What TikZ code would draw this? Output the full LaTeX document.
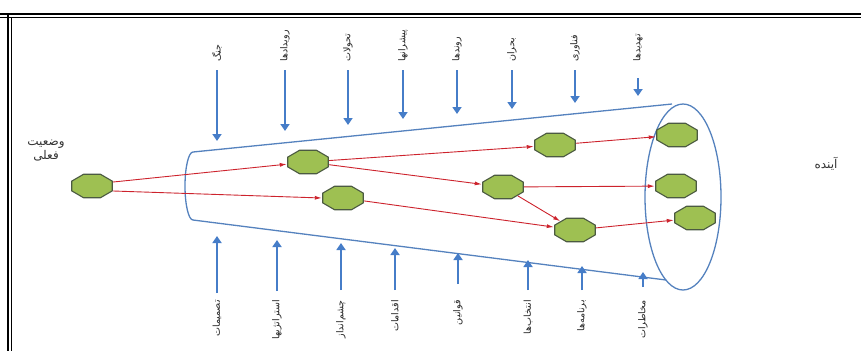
\documentclass[tikz,border=0pt]{standalone}
\usepackage{fontspec}
\usetikzlibrary{shapes.geometric,arrows.meta}
\TeXXeTstate=1
\newfontfamily\fa[Script=Arabic]{DejaVu Sans}
\definecolor{conec}{RGB}{85,130,190}
\definecolor{arrc}{RGB}{70,125,200}
\definecolor{redc}{RGB}{205,35,45}
\definecolor{nodef}{RGB}{158,192,82}
\definecolor{nodeb}{RGB}{75,90,65}
\tikzset{
  state/.style={regular polygon,regular polygon sides=8,minimum size=25.5pt,xscale=1.72,transform shape,
    fill=nodef,draw=nodeb,line width=1.1pt,inner sep=0pt},
  link/.style={draw=redc,line width=0.9pt,-{Latex[length=7pt,width=4pt]}},
  force/.style={draw=arrc,line width=2.6pt,-{Triangle[length=7pt,width=9pt]}},
  lbl/.style={font=\fa\fontsize{9.5}{10}\selectfont,rotate=90,inner sep=0pt,text=black!85},
  txt/.style={font=\fa\fontsize{12}{14}\selectfont,align=center,inner sep=0pt,text=black!80}
}
\begin{document}
\begin{tikzpicture}[x=1pt,y=-1pt]
\useasboundingbox (0,0) rectangle (861,351);
% frame
\draw[line width=1.6pt] (0,14) -- (861,14);
\draw[line width=0.6pt] (0,17) -- (861,17);
\draw[line width=1.6pt] (8,14) -- (8,351);
\draw[line width=0.6pt] (11,17) -- (11,351);
% cone
\fill[white] (193,152) -- (670,104) -- (670,278) -- (193,220) -- cycle;
\draw[conec,line width=1.3pt] (193,152) -- (672,104);
\draw[conec,line width=1.3pt] (193,220) -- (666,280);
\draw[conec,line width=1.3pt] (193,152) arc[start angle=270,end angle=90,x radius=8,y radius=34];
\draw[conec,line width=1.3pt] (683,197) ellipse[x radius=38,y radius=93];
% nodes
\node[state] (s) at (92,186) {};
\node[state] (a) at (308,162) {};
\node[state] (b) at (343,198) {};
\node[state] (c) at (555,145) {};
\node[state] (d) at (503,187) {};
\node[state] (e) at (575,230) {};
\node[state] (f1) at (677,135) {};
\node[state] (f2) at (676,186) {};
\node[state] (f3) at (695,218) {};
% links
\draw[link] ([yshift=4pt]s.east) -- (a);
\draw[link] ([yshift=-5pt]s.east) -- (b.west);
\draw[link] (a) -- (c);
\draw[link] (a) -- (d);
\draw[link] (b) -- (e);
\draw[link] (d) -- (e);
\draw[link] (d) -- (f2);
\draw[link] (c) -- (f1);
\draw[link] (e) -- (f3);
% texts
\node[txt] (now) at (46,151) {\beginR وضعیت\endR\\\beginR فعلی\endR};
\node[txt] (fut) at (826,164) {\beginR آینده\endR};
% top forces
\foreach \i/\x/\yb/\ye/\t in {1/217/70/141/جنگ,2/285/70/131/رویدادها,3/348/70/125/تحولات,4/403/70/119/پیشرانها,5/457/70/114/روندها,6/512/70/109/بحران,7/575/70/103/فناوری,8/638/78/96/تهدیدها}{
  \coordinate (ts\i) at (\x,\yb);
  \coordinate (te\i) at (\x,\ye);
  \draw[force] (ts\i) -- (te\i);
  \node[lbl,anchor=west] (tl\i) at (\x,62) {\beginR\t\endR};
}
% bottom forces
\foreach \i/\x/\yb/\ye/\t in {1/217/293/236/تصمیمات,2/277/291/240/استراتژیها,3/341/290/243/چشم‌انداز,4/395/290/248/اقدامات,5/458/284/253/قوانین,6/528/290/260/انتخاب‌ها,7/582/290/266/برنامه‌ها,8/643/287/272/مخاطرات}{
  \coordinate (bs\i) at (\x,\yb);
  \coordinate (be\i) at (\x,\ye);
  \draw[force] (bs\i) -- (be\i);
  \node[lbl,anchor=east] (bl\i) at (\x,300) {\beginR\t\endR};
}
\end{tikzpicture}
\end{document}
